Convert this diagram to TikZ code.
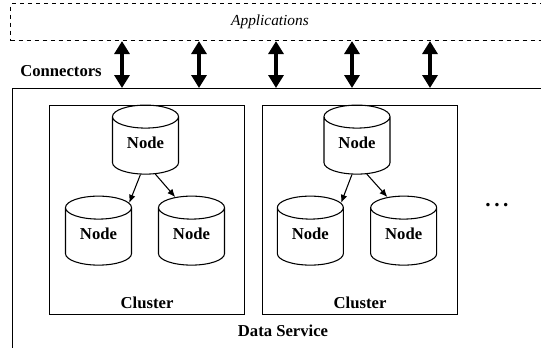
\documentclass[tikz,border=0pt]{standalone}
\usepackage{fontspec}
\setmainfont{Liberation Serif}
\usetikzlibrary{positioning, arrows.meta, shapes.geometric}

\begin{document}
\begin{tikzpicture}[x=0.75pt, y=-0.75pt, line width=0.8pt, node distance=68.25pt,
        font=\fontsize{12.5}{14}\selectfont\bfseries]
    \tikzstyle{db} = [cylinder, shape border rotate=90, draw, aspect=0.5, minimum width=49.5pt, minimum height=51.75pt, text depth=8pt]
    \tikzstyle{cluster} = [draw, minimum width=146.25pt, minimum height=156.75pt, anchor=north west]
    \tikzstyle{conn} = [line width=2.6pt, {Triangle[width=11.25pt,length=9.75pt]}-{Triangle[width=11.25pt,length=9.75pt]}]
    \tikzstyle{link} = [-{Latex[length=6pt,width=5pt]}]

    \clip (0,0) rectangle (541,347);

    % Applications layer (dashed, runs past the right edge)
    \node[draw, dashed, minimum width=420pt, minimum height=27.75pt, anchor=north west] (apps) at (10,3) {};
    \node[font=\fontsize{11.5}{13}\selectfont\itshape] (appstext) at (270,22) {Applications};

    % Data service (runs past the right and bottom edges)
    \node[draw, minimum width=450pt, minimum height=225pt, anchor=north west] (ds) at (12,88) {};
    \node (dstext) at (283,331) {Data Service};
    \node (connlabel) at (61,71) {Connectors};

    % Connectors between the two layers
    \coordinate (k1) at (122,64);
    \coordinate (k2) at (199,64);
    \coordinate (k3) at (276,64);
    \coordinate (k4) at (352,64);
    \coordinate (k5) at (430,64);
    \draw[conn] (k1 |- apps.south) -- (k1 |- ds.north);
    \draw[conn] (k2 |- apps.south) -- (k2 |- ds.north);
    \draw[conn] (k3 |- apps.south) -- (k3 |- ds.north);
    \draw[conn] (k4 |- apps.south) -- (k4 |- ds.north);
    \draw[conn] (k5 |- apps.south) -- (k5 |- ds.north);

    % Clusters
    \node[cluster] (c1) at (49,105) {};
    \node[cluster] (c2) at (262,105) {};
    \node (c1label) [above=1pt of c1.south] {Cluster};
    \node (c2label) [above=1pt of c2.south] {Cluster};

    % Nodes of the first cluster
    \node[db] (c1a) at (145.5,148.5) {Node};
    \node[db] (c1b) [below of=c1a, xshift=-35.25pt] {Node};
    \node[db] (c1c) [below of=c1a, xshift=34.5pt] {Node};

    % Nodes of the second cluster
    \node[db] (c2a) at (357,148.5) {Node};
    \node[db] (c2b) [below of=c2a, xshift=-35pt] {Node};
    \node[db] (c2c) [below of=c2a, xshift=35pt] {Node};

    \draw[link] (c1a.-101) -- (c1b.50);
    \draw[link] (c1a.-69) -- (c1c.111);
    \draw[link] (c2a.-101) -- (c2b.50);
    \draw[link] (c2a.-69) -- (c2c.111);

    % more clusters
    \node[font=\fontsize{16}{18}\selectfont\bfseries] (more) at (497,205) {.\,.\,.};
\end{tikzpicture}
\end{document}
